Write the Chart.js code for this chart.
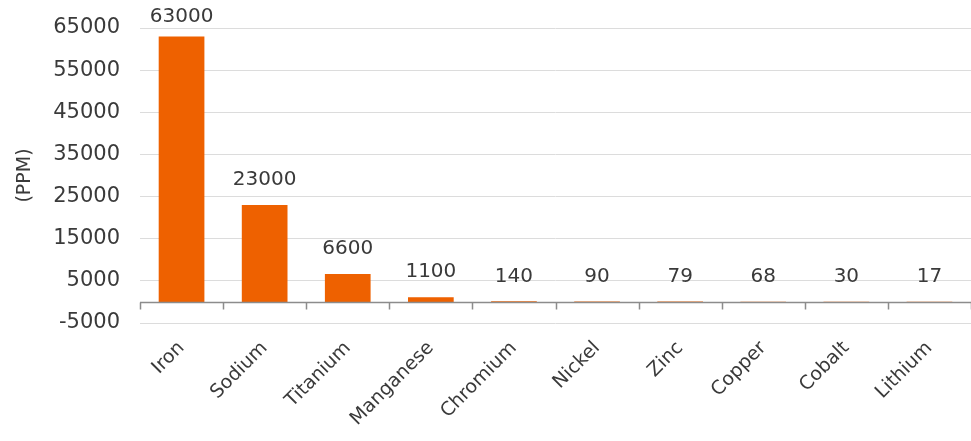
<!DOCTYPE html>
<html>
<head>
<meta charset="utf-8">
<script src="https://cdn.jsdelivr.net/npm/chart.js@4"></script>
<style>
  html, body { margin: 0; padding: 0; background: #fff; }
  #wrap { width: 971px; height: 441px; }
</style>
</head>
<body>
<div id="wrap"><canvas id="myChart"></canvas></div>
<script>
var metals = ["Iron", "Sodium", "Titanium", "Manganese", "Chromium", "Nickel", "Zinc", "Copper", "Cobalt", "Lithium"];
var ppm = [63000, 23000, 6600, 1100, 140, 90, 79, 68, 30, 17];
var yMin = -5000;
var yMax = 65000;
var yStep = 10000;

var textFont = 'DejaVu Sans';
var textColor = '#3a3a3a';

// zero line with tick marks at the category boundaries
var zeroLine = {
    id: 'zeroLine',
    afterDatasetsDraw: function(chart) {
        var c = chart.ctx, x = chart.scales.x, y = chart.scales.y;
        var y0 = Math.round(y.getPixelForValue(0)) + 0.5;
        c.save();
        c.strokeStyle = '#8c8c8c';
        c.lineWidth = 1.5;
        c.beginPath();
        c.moveTo(x.left, y0);
        c.lineTo(x.right, y0);
        for (var i = 0; i <= metals.length; i++) {
            var px = Math.round(x.getPixelForValue(i - 0.5)) + 0.5;
            c.moveTo(px, y0);
            c.lineTo(px, y0 + 7);
        }
        c.stroke();
        c.restore();
    }
};

// value labels above each bar
var valueLabels = {
    id: 'valueLabels',
    afterDatasetsDraw: function(chart) {
        var c = chart.ctx;
        var meta = chart.getDatasetMeta(0);
        c.save();
        c.font = '20px "' + textFont + '"';
        c.fillStyle = textColor;
        c.textAlign = 'center';
        c.textBaseline = 'bottom';
        meta.data.forEach(function(bar, i) {
            var top = Math.min(bar.y, bar.base);
            var yy = Math.max(top - 15, chart.chartArea.top - 1);
            c.fillText(String(ppm[i]), bar.x, yy);
        });
        c.restore();
    }
};

var ctx = document.getElementById("myChart");
var myChart = new Chart(ctx, {
    type: 'bar',
    data: {
        labels: metals,
        datasets: [{
            label: 'PPM',
            data: ppm,
            backgroundColor: '#EE6100',
            borderWidth: 0,
            barPercentage: 0.55,
            categoryPercentage: 1
        }]
    },
    options: {
        responsive: true,
        maintainAspectRatio: false,
        animation: false,
        layout: { padding: { top: 28, right: 0, left: 0, bottom: 0 } },
        plugins: {
            legend: { display: false },
            tooltip: { enabled: false }
        },
        scales: {
            x: {
                grid: { display: false },
                border: { display: false },
                ticks: {
                    color: textColor,
                    font: { family: textFont, size: 19 },
                    maxRotation: 45,
                    minRotation: 45,
                    padding: 6
                },
                afterFit: function(scale) { scale.height = 118; }
            },
            y: {
                min: yMin,
                max: yMax,
                ticks: {
                    stepSize: yStep,
                    color: textColor,
                    font: { family: textFont, size: 21 },
                    padding: 20,
                    callback: function(v) { return String(v); }
                },
                grid: {
                    color: '#dcdcdc',
                    drawTicks: false
                },
                border: { display: false },
                title: {
                    display: true,
                    text: '(PPM)',
                    color: textColor,
                    font: { family: textFont, size: 19 },
                    padding: { top: 14, bottom: 0 }
                },
                afterFit: function(scale) {
                    scale.width = 140;
                    scale.paddingTop = 0;
                }
            }
        }
    },
    plugins: [zeroLine, valueLabels]
});
</script>
</body>
</html>
